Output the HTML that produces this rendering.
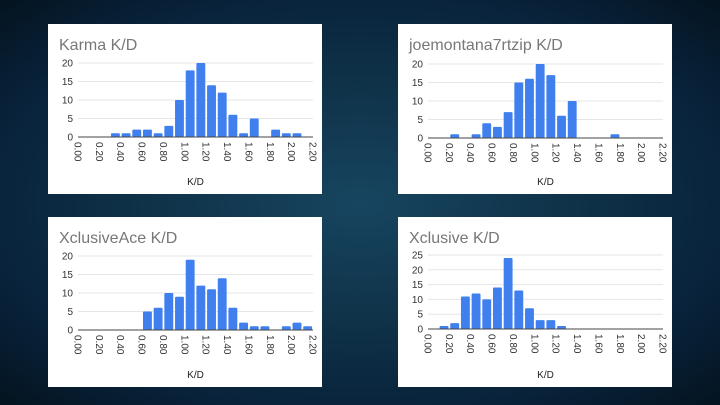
<!DOCTYPE html>
<html><head><meta charset="utf-8"><style>
html,body{margin:0;padding:0;width:720px;height:405px;overflow:hidden;}
body{background:radial-gradient(ellipse at 50% 50%,#174560 0%,#0f3349 40%,#08223a 75%,#04131f 100%);}
svg{position:absolute;left:0;top:0;}
</style></head><body>
<svg id="s" width="720" height="405" xmlns="http://www.w3.org/2000/svg" font-family="Liberation Sans, sans-serif"></svg>
<script>
const charts=[
 {L:48,T:24,W:274,H:170,title:"Karma K/D",max:20,step:5,base:113,top:39,
  d:{3:1,4:1,5:2,6:2,7:1,8:3,9:10,10:18,11:20,12:14,13:12,14:6,15:1,16:5,18:2,19:1,20:1}},
 {L:398,T:24,W:274,H:170,title:"joemontana7rtzip K/D",max:20,step:5,base:114,top:40,
  d:{2:1,4:1,5:4,6:3,7:7,8:15,9:16,10:20,11:17,12:6,13:10,17:1}},
 {L:48,T:217,W:274,H:170,title:"XclusiveAce K/D",max:20,step:5,base:113,top:39,
  d:{6:5,7:6,8:10,9:9,10:19,11:12,12:11,13:14,14:6,15:2,16:1,17:1,19:1,20:2,21:1}},
 {L:398,T:217,W:274,H:170,title:"Xclusive K/D",max:25,step:5,base:112,top:38,
  d:{1:1,2:2,3:11,4:12,5:10,6:14,7:24,8:13,9:7,10:3,11:3,12:1}}
];
let h='';
for(const c of charts){
 const L=c.L,T=c.T,x0=L+30,x1=L+265,bw=(x1-x0)/22,by=T+c.base,ty=T+c.top,ppu=(by-ty)/c.max;
 h+=`<rect x="${L}" y="${T}" width="${c.W}" height="${c.H}" fill="#fff"/>`;
 h+=`<text x="${L+11}" y="${T+26}" font-size="16" fill="#777">${c.title}</text>`;
 for(let v=0;v<=c.max;v+=c.step){
  const y=by-v*ppu;
  if(v>0)h+=`<line x1="${x0}" x2="${x1}" y1="${y}" y2="${y}" stroke="#e6e6e6" stroke-width="1"/>`;
  h+=`<text x="${L+25}" y="${y+3.5}" font-size="10" fill="#333" text-anchor="end">${v}</text>`;
 }
 for(const k in c.d){
  const v=c.d[k],x=x0+k*bw+0.9,hh=v*ppu;
  h+=`<rect x="${x}" y="${by-hh}" width="${bw-1.8}" height="${hh}" rx="1" fill="#3f80ee"/>`;
 }
 h+=`<line x1="${x0}" x2="${x1}" y1="${by}" y2="${by}" stroke="#444" stroke-width="1"/>`;
 for(let i=0;i<=11;i++){
  const x=x0+i*2*bw;
  h+=`<text transform="translate(${x-3.5},${by+5}) rotate(90)" font-size="10" fill="#333">${(i*0.2).toFixed(2)}</text>`;
 }
 h+=`<text x="${(x0+x1)/2}" y="${T+161}" font-size="10" fill="#222" text-anchor="middle">K/D</text>`;
}
document.getElementById('s').innerHTML=h;
</script>
</body></html>
